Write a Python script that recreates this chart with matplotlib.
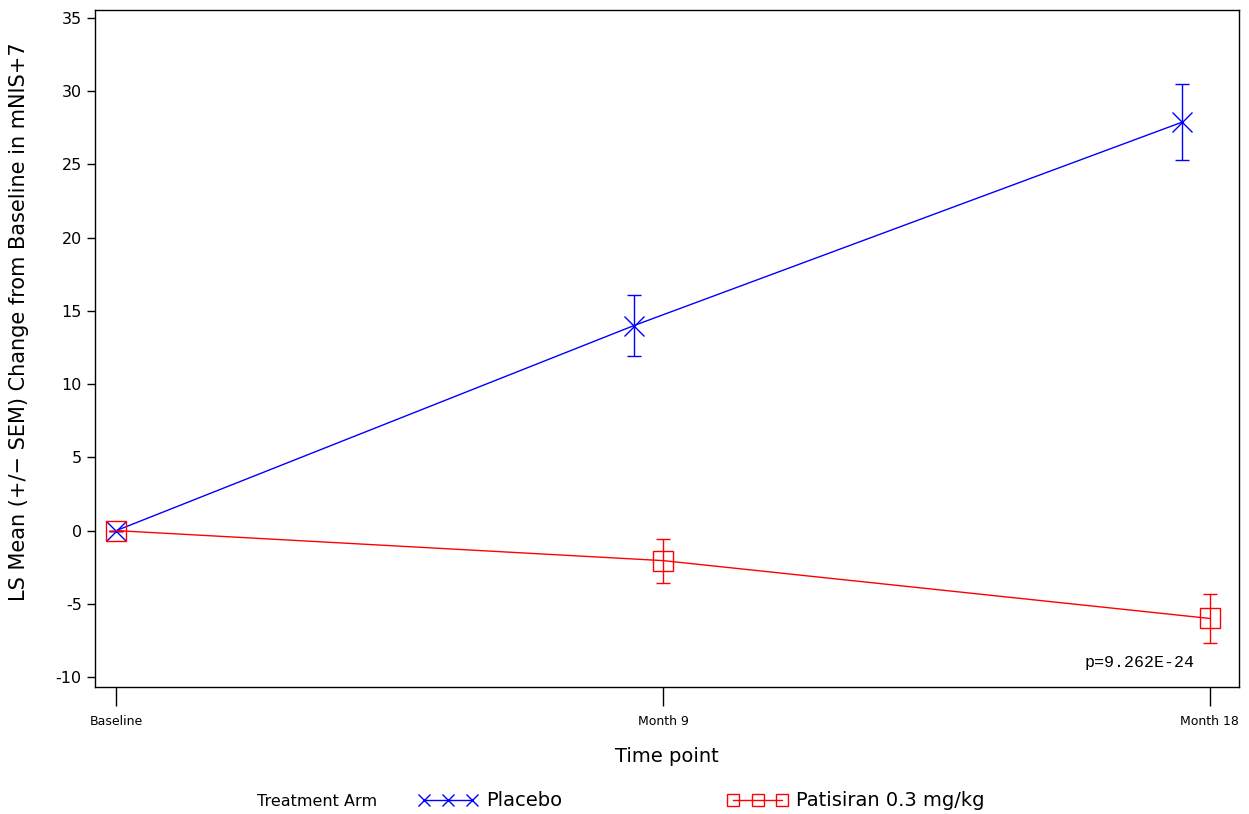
import matplotlib
matplotlib.use("Agg")
import matplotlib.pyplot as plt
from matplotlib.lines import Line2D

plt.rcParams['axes.unicode_minus'] = False

# time points (months) and tick labels
tick_pos = [0, 9, 18]
tick_labels = ["Baseline", "Month 9", "Month 18"]

# placebo is plotted slightly offset to the left
placebo_x = [0, 8.52, 17.55]
placebo_mean = [0, 14.0, 27.9]
placebo_sem = [0, 2.1, 2.6]

pati_x = [0, 9, 18]
pati_mean = [0, -2.05, -6.0]
pati_sem = [0, 1.5, 1.7]

fig = plt.figure(figsize=(12.49, 8.14), dpi=100)
ax = fig.add_axes([95/1249, 1-687/814, (1239-95)/1249, (687-10)/814])

ax.errorbar(placebo_x, placebo_mean, yerr=placebo_sem, color='blue', linewidth=1,
            marker='x', markersize=14, markeredgewidth=1, capsize=5, elinewidth=1,
            capthick=1)
ax.errorbar(pati_x, pati_mean, yerr=pati_sem, color='red', linewidth=1,
            marker='s', markersize=14, markerfacecolor='none', markeredgewidth=1,
            capsize=5, elinewidth=1, capthick=1)

ax.set_xlim(-0.35, 18.48)
ax.set_ylim(-10.68, 35.55)
ax.set_yticks(range(-10, 36, 5))
ax.set_xticks(tick_pos)
ax.set_xticklabels(tick_labels, fontsize=9)
ax.tick_params(axis='y', labelsize=11.5, length=6, width=1)
ax.tick_params(axis='x', length=14, width=1, pad=6)
for s in ax.spines.values():
    s.set_linewidth(1)

ax.set_xlabel('Time point', fontsize=14, labelpad=14)
ax.set_ylabel('LS Mean (+/− SEM) Change from Baseline in mNIS+7', fontsize=15)
ax.yaxis.set_label_coords(-0.058, 0.54)

ax.text(17.75, -9.0, 'p=9.262E-24', family='Liberation Mono', fontsize=12,
        ha='right', va='center')

fig.text(257/1249, 1-801/814, 'Treatment Arm', fontsize=11.5, va='center')
handles = [Line2D([], [], color='blue', linewidth=1, marker='x', markersize=8, markeredgewidth=1),
           Line2D([], [], color='red', linewidth=1, marker='s', markersize=8,
                  markerfacecolor='none', markeredgewidth=1)]
fig.legend(handles, ['Placebo', 'Patisiran 0.3 mg/kg'], loc='center left',
           bbox_to_anchor=(418/1249, 1-801/814),
           ncol=2, frameon=False, numpoints=3, fontsize=14, borderpad=0,
           borderaxespad=0, handlelength=3.1, handletextpad=0.4,
           columnspacing=8.5)

fig.savefig('out.png', dpi=100)
